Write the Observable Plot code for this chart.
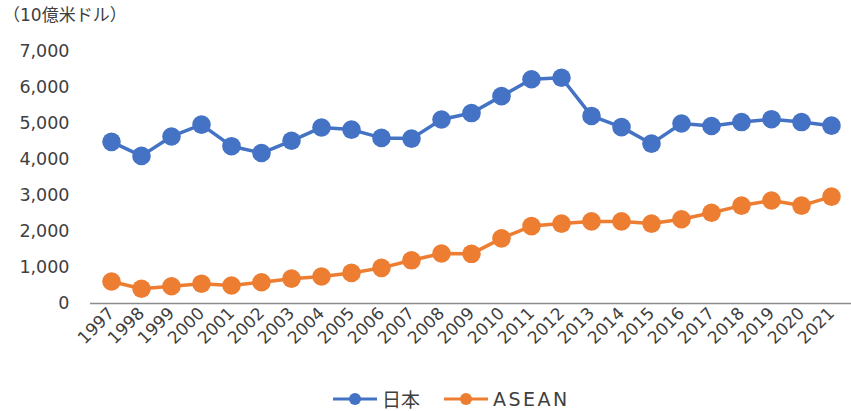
<!DOCTYPE html>
<html>
<head>
<meta charset="utf-8">
<script src="https://cdn.jsdelivr.net/npm/d3@7"></script>
<script src="https://cdn.jsdelivr.net/npm/@observablehq/plot@0.6"></script>
<style>
  html, body { margin: 0; padding: 0; background: #fff; }
  #chart { position: relative; width: 851px; height: 411px; font-family: "DejaVu Sans", "Noto Sans CJK JP", sans-serif; color: #404040; }
  #unit { position: absolute; left: 3px; top: 1px; font-size: 17px; }
  #legend { position: absolute; top: 385px; left: 333px; display: flex; gap: 24px; font-size: 19px; }
  .item { display: flex; align-items: center; gap: 5px; }
  .item.latin span { letter-spacing: 2.5px; }
</style>
</head>
<body>
<div id="chart">
  <div id="unit">（10億米ドル）</div>
  <div id="legend"></div>
</div>
<script>
// Nominal GDP, billions of US dollars
const years = ["1997","1998","1999","2000","2001","2002","2003","2004","2005","2006","2007","2008","2009","2010","2011","2012","2013","2014","2015","2016","2017","2018","2019","2020","2021"];
const japan = [4490,4100,4640,4970,4370,4180,4520,4890,4830,4600,4580,5110,5290,5760,6230,6270,5210,4900,4440,5000,4930,5040,5120,5040,4940];
const asean = [610,410,480,550,500,590,690,750,850,990,1200,1390,1380,1810,2150,2220,2280,2280,2220,2340,2520,2720,2860,2720,2970];
const seriesNames = ["日本", "ASEAN"];
const seriesColors = ["#4472C4", "#ED7D31"];
const yTicks = [0,1000,2000,3000,4000,5000,6000,7000];

const rows = [
  ...years.map((y, i) => ({year: y, value: japan[i], series: seriesNames[0]})),
  ...years.map((y, i) => ({year: y, value: asean[i], series: seriesNames[1]}))
];

const fmt = d3.format(",");

const plot = Plot.plot({
  width: 851,
  height: 411,
  marginTop: 51,
  marginBottom: 108,
  marginLeft: 90,
  marginRight: 0,
  style: {fontFamily: "'DejaVu Sans', 'Noto Sans CJK JP', sans-serif", fontSize: "17px", color: "#404040", background: "transparent"},
  x: {type: "point", domain: years, range: [105.5, 836.5], padding: 0, label: null},
  y: {domain: [0, 7000], label: null},
  color: {domain: seriesNames, range: seriesColors},
  marks: [
    Plot.axisY({ticks: yTicks, tickFormat: fmt, tickSize: 0, tickPadding: 21, fontSize: 17.5, label: null}),
    Plot.axisX({tickSize: 0, tickPadding: 7, tickRotate: -45, fontSize: 17, label: null}),
    Plot.ruleY([0], {stroke: "#8c8c8c", strokeWidth: 1.5}),
    Plot.line(rows, {x: "year", y: "value", z: "series", stroke: "series", strokeWidth: 3.5}),
    Plot.dot(rows, {x: "year", y: "value", fill: "series", r: 9.3})
  ]
});
document.getElementById("chart").prepend(plot);
plot.style.position = "absolute";
plot.style.left = "0";
plot.style.top = "0";

// legend
const legend = document.getElementById("legend");
seriesNames.forEach((name, i) => {
  const item = document.createElement("div");
  item.className = i === 1 ? "item latin" : "item";
  item.innerHTML = `<svg width="44" height="14"><line x1="0" y1="7" x2="44" y2="7" stroke="${seriesColors[i]}" stroke-width="3"/><circle cx="22" cy="7" r="6" fill="${seriesColors[i]}"/></svg><span>${name}</span>`;
  legend.appendChild(item);
});
</script>
</body>
</html>
